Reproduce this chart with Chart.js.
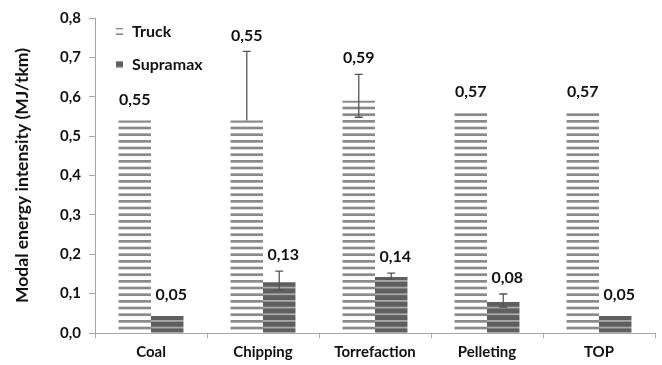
<!DOCTYPE html>
<html>
<head>
<meta charset="utf-8">
<script src="https://cdn.jsdelivr.net/npm/chart.js@4.4.1/dist/chart.umd.min.js"></script>
<style>
    html, body { margin: 0; padding: 0; background: #fff; }
    #wrap { width: 662px; height: 365px; }
</style>
</head>
<body>
<div id="wrap"><canvas id="energyChart"></canvas></div>
<script>
// ===== DATA =====
const categories = ['Coal', 'Chipping', 'Torrefaction', 'Pelleting', 'TOP'];
const truckValues = [0.54, 0.54, 0.59, 0.56, 0.56];
const supramaxValues = [0.043, 0.129, 0.142, 0.079, 0.043];
const truckLabels = ['0,55', '0,55', '0,59', '0,57', '0,57'];
const supramaxLabels = ['0,05', '0,13', '0,14', '0,08', '0,05'];
const truckErrLow = [null, 0.54, 0.548, null, null];
const truckErrHigh = [null, 0.715, 0.657, null, null];
const supramaxErrLow = [null, 0.109, 0.136, 0.066, null];
const supramaxErrHigh = [null, 0.157, 0.152, 0.099, null];
const yTicks = [0, 0.1, 0.2, 0.3, 0.4, 0.5, 0.6, 0.7, 0.8];

const FONT = 'Lato';
const AXIS_GREY = '#a6a6a6';
const TEXT = '#111';

const canvas = document.getElementById('energyChart');
const ctx = canvas.getContext('2d');

// striped fills like the excel pattern
function stripes(bg, fg, thick) {
    const c = document.createElement('canvas');
    c.width = 4;
    c.height = 20;
    const g = c.getContext('2d');
    g.fillStyle = bg;
    g.fillRect(0, 0, 4, 20);
    g.fillStyle = fg;
    for (let k = 0; k < 3; k++) g.fillRect(0, k * 20 / 3, 4, thick);
    return ctx.createPattern(c, 'repeat');
}
const truckFill = stripes('#ffffff', '#8a8a8a', 2.7);
const supramaxFill = stripes('#5f5f5f', '#a9a9a9', 1.8);

const errLow = [truckErrLow, supramaxErrLow];
const errHigh = [truckErrHigh, supramaxErrHigh];
const valueLabels = [truckLabels, supramaxLabels];

// ===== PLUGINS =====
const errorBars = {
    id: 'errorBars',
    afterDatasetsDraw(chart) {
        const y = chart.scales.y;
        const c = chart.ctx;
        c.save();
        c.strokeStyle = '#555';
        c.lineWidth = 1.3;
        chart.data.datasets.forEach((ds, i) => {
            chart.getDatasetMeta(i).data.forEach((bar, j) => {
                if (errHigh[i][j] == null) return;
                const top = y.getPixelForValue(errHigh[i][j]);
                const bot = y.getPixelForValue(errLow[i][j]);
                c.beginPath();
                c.moveTo(bar.x, top); c.lineTo(bar.x, bot);
                c.moveTo(bar.x - 4, top); c.lineTo(bar.x + 4, top);
                if (i === 0 && j === 1) { /* plus only */ } else {
                    c.moveTo(bar.x - 4, bot); c.lineTo(bar.x + 4, bot);
                }
                c.stroke();
            });
        });
        c.restore();
    }
};

const barLabels = {
    id: 'barLabels',
    afterDraw(chart) {
        const y = chart.scales.y;
        const c = chart.ctx;
        c.save();
        c.font = 'bold 16px ' + FONT;
        c.fillStyle = TEXT;
        c.textAlign = 'center';
        c.textBaseline = 'middle';
        chart.data.datasets.forEach((ds, i) => {
            chart.getDatasetMeta(i).data.forEach((bar, j) => {
                const top = errHigh[i][j] != null ? y.getPixelForValue(errHigh[i][j]) - 16 : bar.y - 21;
                c.fillText(valueLabels[i][j], bar.x + (i === 1 ? 4 : 0), top);
            });
        });
        c.restore();
    }
};

const sideLegend = {
    id: 'sideLegend',
    afterDraw(chart) {
        const a = chart.chartArea;
        const c = chart.ctx;
        c.save();
        c.font = 'bold 16px ' + FONT;
        c.textBaseline = 'middle';
        chart.data.datasets.forEach((ds, i) => {
            const cy = a.top + 14 + i * 33;
            c.fillStyle = ds.backgroundColor;
            c.fillRect(a.left + 21, cy - 4, 7, 7);
            c.fillStyle = TEXT;
            c.fillText(ds.label, a.left + 37, cy);
        });
        c.restore();
    }
};

// ===== CHART =====
new Chart(canvas, {
    type: 'bar',
    data: {
        labels: categories,
        datasets: [
            { label: 'Truck', data: truckValues, backgroundColor: truckFill },
            { label: 'Supramax', data: supramaxValues, backgroundColor: supramaxFill }
        ]
    },
    options: {
        responsive: true,
        maintainAspectRatio: false,
        animation: false,
        categoryPercentage: 0.58,
        barPercentage: 1.0,
        layout: { padding: { top: 18, right: 7, left: 0, bottom: 0 } },
        plugins: {
            legend: { display: false },
            tooltip: { enabled: false }
        },
        scales: {
            x: {
                offset: true,
                grid: { offset: true, drawOnChartArea: false, drawTicks: true, tickLength: 5, color: AXIS_GREY },
                border: { color: AXIS_GREY, width: 1 },
                ticks: { padding: 5, color: TEXT, font: { family: FONT, size: 15, weight: 'bold' } },
                afterFit: s => { s.height = 32; }
            },
            y: {
                min: 0,
                max: 0.8,
                afterBuildTicks: s => { s.ticks = yTicks.map(v => ({ value: v })); },
                grid: { drawOnChartArea: false, drawTicks: true, tickLength: 6, color: AXIS_GREY },
                border: { color: AXIS_GREY, width: 1 },
                ticks: {
                    padding: 8,
                    color: TEXT,
                    font: { family: FONT, size: 15, weight: 'bold' },
                    callback: v => v.toFixed(1).replace('.', ',')
                },
                title: {
                    display: true,
                    text: 'Modal energy intensity (MJ/tkm)',
                    color: TEXT,
                    font: { family: FONT, size: 17.5, weight: 'bold' },
                    padding: { top: 12, bottom: 0 }
                },
                afterFit: s => { s.width = 95; }
            }
        }
    },
    plugins: [errorBars, barLabels, sideLegend]
});
</script>
</body>
</html>
